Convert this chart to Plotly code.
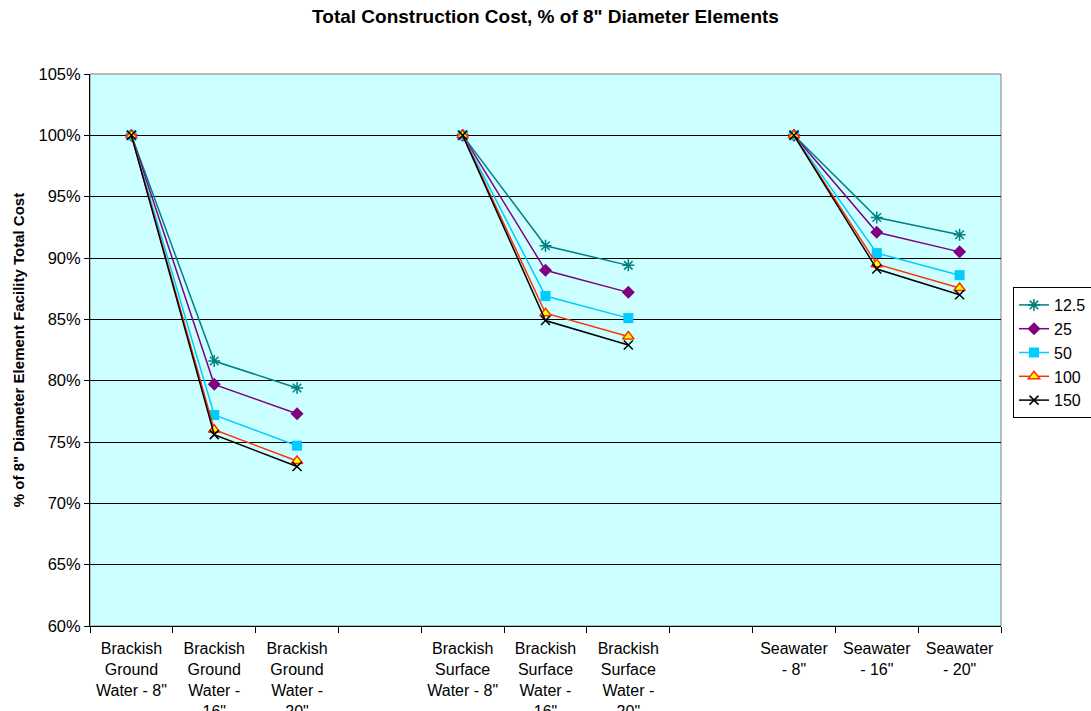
import plotly.graph_objects as go

# Category slots along the x axis (blank slots separate the three water types)
categories = [
    "Brackish<br>Ground<br>Water - 8\"",
    "Brackish<br>Ground<br>Water -<br>16\"",
    "Brackish<br>Ground<br>Water -<br>20\"",
    " ",
    "Brackish<br>Surface<br>Water - 8\"",
    "Brackish<br>Surface<br>Water -<br>16\"",
    "Brackish<br>Surface<br>Water -<br>20\"",
    "  ",
    "Seawater<br>- 8\"",
    "Seawater<br>- 16\"",
    "Seawater<br>- 20\"",
]

# Total cost as % of the 8" element facility, per series
s_12_5 = [100, 81.6, 79.4, None, 100, 91.0, 89.4, None, 100, 93.3, 91.9]
s_25 = [100, 79.7, 77.3, None, 100, 89.0, 87.2, None, 100, 92.1, 90.5]
s_50 = [100, 77.2, 74.7, None, 100, 86.9, 85.1, None, 100, 90.4, 88.6]
s_100 = [100, 76.0, 73.45, None, 100, 85.5, 83.6, None, 100, 89.5, 87.55]
s_150 = [100, 75.6, 73.0, None, 100, 84.9, 82.9, None, 100, 89.1, 87.0]

series_names = ["12.5", "25", "50", "100", "150"]
series_values = [s_12_5, s_25, s_50, s_100, s_150]

y_ticks = [60, 65, 70, 75, 80, 85, 90, 95, 100, 105]

styles = [
    dict(line=dict(color="#008080", width=1.5),
         marker=dict(symbol="asterisk-open", size=10, color="#008080",
                     line=dict(color="#008080", width=1.5))),
    dict(line=dict(color="#800080", width=1.5),
         marker=dict(symbol="diamond", size=10, color="#800080",
                     line=dict(color="#800080", width=0))),
    dict(line=dict(color="#00CCFF", width=1.5),
         marker=dict(symbol="square", size=10, color="#00CCFF",
                     line=dict(color="#00CCFF", width=0))),
    dict(line=dict(color="#FF3300", width=1.5),
         marker=dict(symbol="triangle-up", size=10, color="#FFFF00",
                     line=dict(color="#FF3300", width=1.5))),
    dict(line=dict(color="#000000", width=1.5),
         marker=dict(symbol="x-thin-open", size=9, color="#000000",
                     line=dict(color="#000000", width=1.5))),
]

fig = go.Figure()
for name, vals, st in zip(series_names, series_values, styles):
    fig.add_trace(go.Scatter(
        x=categories, y=vals, name=name, mode="lines+markers",
        connectgaps=False, line=st["line"], marker=st["marker"],
    ))

font_family = "Liberation Sans, Arial, sans-serif"

fig.update_layout(
    width=1091, height=711,
    margin=dict(l=90, r=90, t=74, b=85, autoexpand=False),
    paper_bgcolor="white",
    plot_bgcolor="#CCFFFF",
    font=dict(family=font_family, size=16, color="#000000"),
    title=dict(
        text="<b>Total Construction Cost, % of 8\" Diameter Elements</b>",
        x=0.5, xanchor="center", y=1 - 16 / 711, yanchor="middle",
        yref="container", font=dict(size=19, color="#000000"),
    ),
    showlegend=True,
    legend=dict(
        x=(1013 - 90) / 911, y=(626 - 287) / 552, xanchor="left", yanchor="top",
        bgcolor="white", bordercolor="#000000", borderwidth=1,
        font=dict(size=16), tracegroupgap=0, itemwidth=30,
    ),
    xaxis=dict(
        type="category", categoryorder="array", categoryarray=categories,
        range=[-0.5, 10.5], tickson="boundaries", ticks="outside",
        ticklen=6, tickcolor="#000000", showgrid=False,
        showline=True, linecolor="#000000", linewidth=1, mirror=False,
        tickfont=dict(size=16, color="#000000"), zeroline=False,
        ticklabelstandoff=8,
    ),
    yaxis=dict(
        range=[60, 105], tickvals=y_ticks,
        ticktext=[f"{v}%" for v in y_ticks],
        ticks="outside", ticklen=5, tickcolor="#000000",
        showgrid=True, gridcolor="#000000", gridwidth=1,
        showline=True, linecolor="#000000", linewidth=1,
        zeroline=False, tickfont=dict(size=16.5, color="#000000"),
        title=dict(text="<b>% of 8\" Diameter Element Facility Total Cost</b>",
                   font=dict(size=15, color="#000000"), standoff=10),
    ),
)

# Grey frame around the plotting area
fig.add_shape(type="rect", xref="paper", yref="paper", x0=0, y0=0, x1=1, y1=1,
              line=dict(color="#808080", width=1), layer="below")

fig.write_html("out.html")
